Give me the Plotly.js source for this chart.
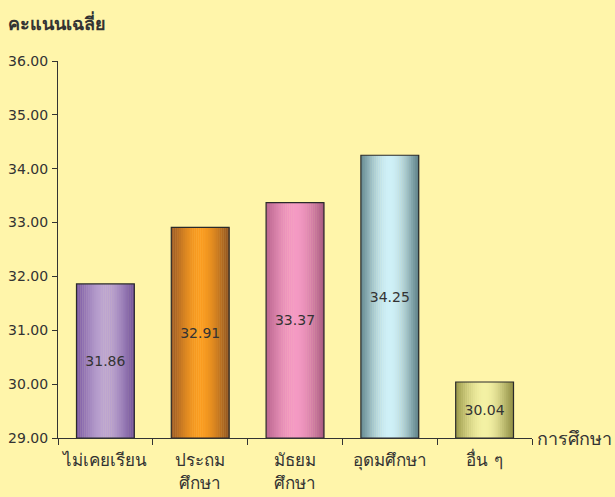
<!DOCTYPE html>
<html>
<head>
<meta charset="utf-8">
<script src="https://cdn.plot.ly/plotly-3.0.1.min.js"></script>
<style>
  html, body { margin: 0; padding: 0; background: #fff5aa; }
  #chart { width: 615px; height: 497px; }
</style>
</head>
<body>
<div id="chart"></div>
<script>
// education level vs average score
var categories = ["ไม่เคยเรียน", "ประถม<br>ศึกษา", "มัธยม<br>ศึกษา", "อุดมศึกษา", "อื่น ๆ"];
var scores = [31.86, 32.91, 33.37, 34.25, 30.04];
var yTitle = "คะแนนเฉลี่ย";
var xTitle = "การศึกษา";

// left edge, centre, right edge for each bar's cylinder shading
var barShades = [
    ["#7a58a3", "#bca4d0", "#73529a"],
    ["#9c5a26", "#fa9c20", "#8f5220"],
    ["#bb6890", "#f49ac3", "#a85a80"],
    ["#688c92", "#cff0f7", "#5f8288"],
    ["#9c9a4a", "#f3f1a4", "#8f8d44"]
];

var FONT = "DejaVu Sans, Noto Sans, sans-serif";
var INK = "#333333";
var BAR_W = 0.61;
var STRIPES = 30;

function hexToRgb(h) {
    return [parseInt(h.substr(1, 2), 16), parseInt(h.substr(3, 2), 16), parseInt(h.substr(5, 2), 16)];
}

function mix(a, b, f) {
    var ca = hexToRgb(a), cb = hexToRgb(b);
    var out = ca.map((v, i) => Math.round(v + (cb[i] - v) * f));
    return "rgb(" + out.join(",") + ")";
}

var heights = scores.map(v => v - 29);
var traces = [];

for (var k = 0; k < STRIPES; k++) {
    var t = (k + 0.5) / STRIPES;
    var f = Math.pow(Math.sin(Math.PI * t), 1.1);
    var colors = barShades.map(s => t <= 0.5 ? mix(s[0], s[1], f) : mix(s[2], s[1], f));
    traces.push({
        type: "bar",
        x: categories,
        y: heights,
        base: 29,
        width: BAR_W / STRIPES + 0.004,
        offset: -BAR_W / 2 + k * BAR_W / STRIPES,
        marker: { color: colors, line: { width: 0 } },
        hoverinfo: "skip",
        showlegend: false
    });
}

// outline + value labels
traces.push({
    type: "bar",
    x: categories,
    y: heights,
    base: 29,
    width: BAR_W,
    offset: -BAR_W / 2,
    marker: { color: "rgba(0,0,0,0)", line: { color: "#2a2a2a", width: 1.2 } },
    text: scores.map(v => v.toFixed(2)),
    textposition: "inside",
    insidetextanchor: "middle",
    constraintext: "none",
    textfont: { family: FONT, size: 14, color: INK },
    hoverinfo: "skip",
    showlegend: false
});

var layout = {
    width: 615,
    height: 497,
    margin: { l: 58, r: 83, t: 61, b: 59 },
    paper_bgcolor: "#fff5aa",
    plot_bgcolor: "#fff5aa",
    barmode: "overlay",
    font: { family: FONT, size: 14, color: INK },
    xaxis: {
        type: "category",
        showline: true,
        linecolor: INK,
        linewidth: 1,
        ticks: "outside",
        tickson: "boundaries",
        ticklen: 6,
        tickcolor: INK,
        showgrid: false,
        zeroline: false,
        tickangle: 0,
        ticklabelstandoff: 7,
        tickfont: { family: FONT, size: 17, color: INK }
    },
    yaxis: {
        range: [29, 36],
        dtick: 1,
        tickformat: ".2f",
        showline: true,
        linecolor: INK,
        linewidth: 1,
        ticks: "outside",
        ticklen: 5,
        tickcolor: INK,
        showgrid: false,
        zeroline: false,
        ticklabelstandoff: 1,
        tickfont: { family: FONT, size: 14, color: INK }
    },
    annotations: [
        {
            text: "<b>" + yTitle + "</b>",
            xref: "paper", yref: "paper",
            x: 0, y: 1, xshift: -52, yshift: 39,
            xanchor: "left", yanchor: "middle",
            showarrow: false,
            font: { family: FONT, size: 18, color: INK }
        },
        {
            text: xTitle,
            xref: "paper", yref: "paper",
            x: 1, y: 0, xshift: 3,
            xanchor: "left", yanchor: "middle",
            showarrow: false,
            font: { family: FONT, size: 18, color: INK }
        }
    ]
};

Plotly.newPlot("chart", traces, layout, { staticPlot: true, displayModeBar: false });
</script>
</body>
</html>
